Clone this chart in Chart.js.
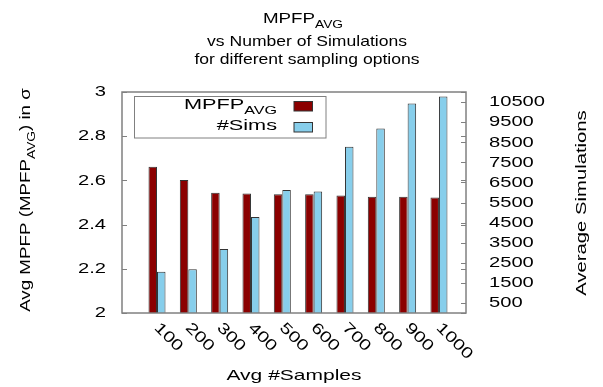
<!DOCTYPE html>
<html>
<head>
<meta charset="utf-8">
<script src="https://cdn.jsdelivr.net/npm/chart.js@4.4.1/dist/chart.umd.min.js"></script>
<style>
  html, body { margin: 0; padding: 0; background: #fff; }
  #wrap { width: 603px; height: 387px; }
</style>
</head>
<body>
<div id="wrap"><canvas id="mpfpChart" width="603" height="387"></canvas></div>
<script>
const sampleLabels = ["100", "200", "300", "400", "500", "600", "700", "800", "900", "1000"];
const mpfpAvg = [2.662, 2.602, 2.544, 2.541, 2.537, 2.537, 2.532, 2.526, 2.526, 2.523];
const avgSims = [2050, 2180, 3180, 4780, 6120, 6050, 8280, 9180, 10430, 10780];
const leftTicks = [2, 2.2, 2.4, 2.6, 2.8, 3];
const rightTicks = [500, 1500, 2500, 3500, 4500, 5500, 6500, 7500, 8500, 9500, 10500];

const FONT = '"Liberation Sans", Arial, sans-serif';
const AXIS_GRAY = "#808080";

function fontOf(size) {
    return `${size}px ${FONT}`;
}

// draws text pieces in a row (for subscripts), stretched along the text direction
function drawRich(ctx, parts, x, y, opts = {}) {
    const sx = opts.sx || 1.35;
    ctx.save();
    ctx.translate(x, y);
    if (opts.rotate) ctx.rotate(opts.rotate);
    ctx.scale(sx, 1);
    ctx.fillStyle = "#000";
    ctx.textBaseline = opts.baseline || "alphabetic";
    ctx.textAlign = "left";

    const widths = parts.map(p => {
        ctx.font = fontOf(p.size);
        return ctx.measureText(p.text).width;
    });
    const total = widths.reduce((a, b) => a + b, 0);
    let cx = 0;
    if (opts.align === "center") cx = -total / 2;
    if (opts.align === "right") cx = -total;

    parts.forEach((p, i) => {
        ctx.font = fontOf(p.size);
        ctx.fillText(p.text, cx, p.dy || 0);
        cx += widths[i];
    });
    ctx.restore();
}

function drawText(ctx, text, x, y, size, opts = {}) {
    drawRich(ctx, [{ text, size }], x, y, opts);
}

const decorPlugin = {
    id: "decor",
    afterDraw(chart) {
        const ctx = chart.ctx;
        const area = chart.chartArea;
        const xs = chart.scales.x;
        const yl = chart.scales.yLeft;
        const yr = chart.scales.yRight;

        // frame
        ctx.save();
        ctx.strokeStyle = AXIS_GRAY;
        ctx.lineWidth = 1.5;
        ctx.strokeRect(area.left, area.top, area.right - area.left, area.bottom - area.top);

        // inward tick marks
        ctx.lineWidth = 1;
        ctx.beginPath();
        for (const v of leftTicks) {
            const py = Math.round(yl.getPixelForValue(v)) + 0.5;
            ctx.moveTo(area.left, py);
            ctx.lineTo(area.left + 5, py);
            ctx.moveTo(area.right, py);
            ctx.lineTo(area.right - 5, py);
        }
        for (const v of rightTicks) {
            const py = Math.round(yr.getPixelForValue(v)) + 0.5;
            ctx.moveTo(area.right, py);
            ctx.lineTo(area.right - 5, py);
        }
        ctx.stroke();
        ctx.restore();

        // tick labels
        for (const v of leftTicks) {
            drawText(ctx, String(+v.toFixed(1)), area.left - 16, yl.getPixelForValue(v), 15.5,
                { align: "right", baseline: "middle", sx: 1.3 });
        }
        for (const v of rightTicks) {
            drawText(ctx, String(v), area.right + 23, yr.getPixelForValue(v), 15.5,
                { align: "left", baseline: "middle", sx: 1.3 });
        }
        sampleLabels.forEach((lab, i) => {
            const px = xs.getPixelForValue(i);
            drawText(ctx, lab, px + 5, area.bottom + 7, 15.5,
                { rotate: Math.PI / 4, baseline: "top", sx: 1.3 });
        });

        // titles
        drawRich(ctx, [{ text: "MPFP", size: 15 }, { text: "AVG", size: 11, dy: 5 }], 303, 23,
            { align: "center", sx: 1.25 });
        drawText(ctx, "vs Number of Simulations", 307, 46, 15, { align: "center", sx: 1.17 });
        drawText(ctx, "for different sampling options", 307, 64, 15, { align: "center", sx: 1.17 });

        drawText(ctx, "Avg #Samples", (area.left + area.right) / 2, 380, 15, { align: "center", sx: 1.4 });
        drawRich(ctx, [
            { text: "Avg MPFP (MPFP", size: 15 },
            { text: "AVG", size: 11, dy: 5 },
            { text: ") in \u03c3", size: 15 }
        ], 30, 200, { rotate: -Math.PI / 2, align: "center", sx: 1.25 });
        drawText(ctx, "Average Simulations", 586, 203, 15, { rotate: -Math.PI / 2, align: "center", sx: 1.35 });

        // legend
        ctx.save();
        ctx.strokeStyle = AXIS_GRAY;
        ctx.lineWidth = 1;
        ctx.strokeRect(134.5, 96.5, 191.5, 41.5);
        const sw = [
            { y: 101.5, color: "#8b0000" },
            { y: 122.5, color: "#87ceeb" }
        ];
        for (const s of sw) {
            ctx.fillStyle = s.color;
            ctx.fillRect(294, s.y, 18.5, 9.5);
            ctx.strokeStyle = "#333";
            ctx.strokeRect(294, s.y, 18.5, 9.5);
        }
        ctx.restore();
        drawRich(ctx, [{ text: "MPFP", size: 15.5 }, { text: "AVG", size: 11.5, dy: 5 }], 277, 108.5,
            { align: "right", sx: 1.4 });
        drawText(ctx, "#Sims", 277, 130, 15.5, { align: "right", sx: 1.4 });
    }
};

const ctx = document.getElementById("mpfpChart").getContext("2d");

new Chart(ctx, {
    type: "bar",
    data: {
        datasets: [{
            label: "MPFP_AVG",
            data: mpfpAvg.map((v, i) => ({ x: i, y: v })),
            yAxisID: "yLeft",
            backgroundColor: "#8b0000",
            borderColor: "#333",
            borderWidth: 1
        }, {
            label: "#Sims",
            data: avgSims.map((v, i) => ({ x: i, y: v })),
            yAxisID: "yRight",
            backgroundColor: "#87ceeb",
            borderColor: "#333",
            borderWidth: 1
        }]
    },
    options: {
        responsive: false,
        animation: false,
        devicePixelRatio: 1,
        layout: { padding: { left: 122, right: 137, top: 92, bottom: 74 } },
        datasets: {
            bar: { categoryPercentage: 0.543, barPercentage: 1.0 }
        },
        plugins: {
            legend: { display: false },
            title: { display: false },
            tooltip: { enabled: false }
        },
        scales: {
            x: { type: "linear", min: -1.117, max: 9.863, offset: false, display: false },
            yLeft: { type: "linear", position: "left", min: 2, max: 3, display: false },
            yRight: { type: "linear", position: "right", min: 0, max: 11000, display: false }
        }
    },
    plugins: [decorPlugin]
});
</script>
</body>
</html>
